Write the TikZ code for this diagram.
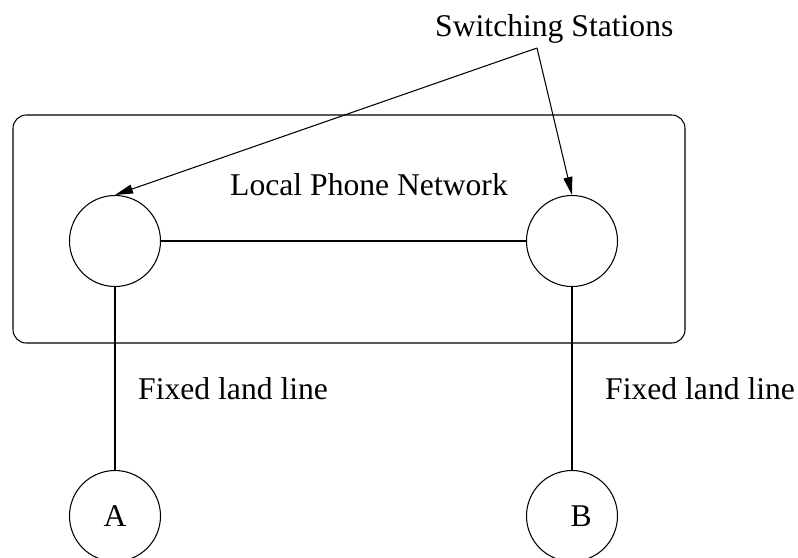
\documentclass[tikz,border=0pt]{standalone}
\usepackage{fontspec}
\setmainfont{Liberation Serif}
\usetikzlibrary{arrows.meta}
\tikzset{
    % Switching station / phone style
    station/.style={
        circle,
        draw,
        line width=0.9pt,
        minimum size=2.73cm,
        inner sep=0pt,
        font=\fontsize{27}{32}\selectfont
    },
    % Network box style
    network/.style={
        rectangle,
        draw,
        rounded corners=0.4cm,
        line width=0.9pt,
        minimum width=20.16cm,
        minimum height=6.84cm
    },
    % Line styles
    wire/.style={line width=0.9pt},
    pointer/.style={
        -{Triangle[length=5.4mm, width=2.7mm]},
        line width=0.9pt
    },
    % Label style
    caption/.style={
        font=\fontsize{27}{32}\selectfont,
        inner sep=0pt,
        anchor=base west
    }
}
\begin{document}
\begin{tikzpicture}[x=0.3mm, y=-0.3mm]
    \useasboundingbox (0,0) rectangle (798,557);

    % Network
    \node[network] (net) at (349,229) {};
    \node[caption] (netlbl) at (230,195) {Local Phone Network};

    % Stations
    \node[station] (left) at (115,241) {};
    \node[station] (right) at (572,241) {};

    % Phones
    \node[station] (a) at (115,516) {A};
    \node[station] (b) at (572,516) {\hspace{0.55cm}B};

    % Connections
    \draw[wire] (left) -- (right);
    \draw[wire] (left) -- (a);
    \draw[wire] (right) -- (b);

    % Labels
    \node[caption] (land1) at (138,399) {Fixed land line};
    \node[caption] (land2) at (605,399) {Fixed land line};
    \node[caption] (sw) at (435,36) {Switching Stations};
    \coordinate (fork) at (537,48);
    \draw[pointer] (fork) -- (left.north);
    \draw[pointer] (fork) -- (right.north);

\end{tikzpicture}
\end{document}
